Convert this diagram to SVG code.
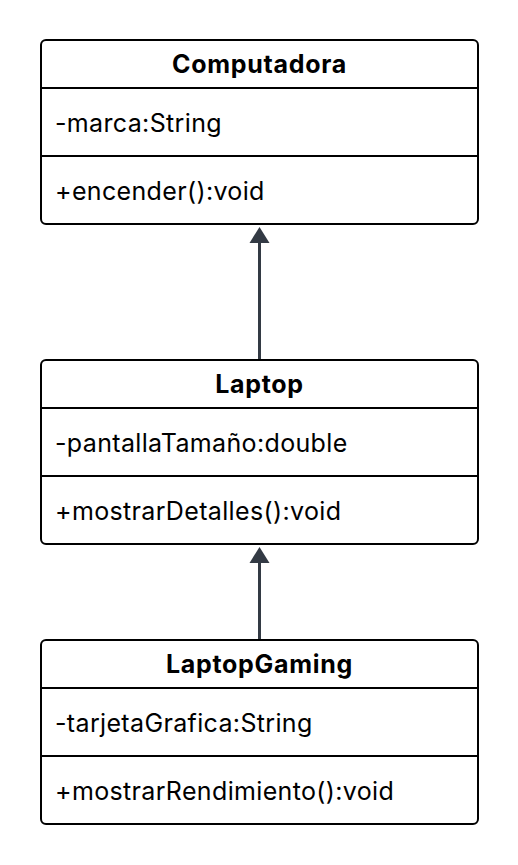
<svg xmlns="http://www.w3.org/2000/svg" width="518" height="865" viewBox="0 0 518 865">
<style>
.box{fill:#fff;stroke:#000;stroke-width:2}
.div{stroke:#000;stroke-width:2}
.t{font-family:Inter,"Liberation Sans",sans-serif;font-size:25px;letter-spacing:0.35px;fill:#000}
.h{font-weight:bold;text-anchor:middle;letter-spacing:0.7px}
.edge{stroke:#333a44;stroke-width:3;fill:none}
</style>
<rect width="518" height="865" fill="#fff"/>
<g id="edges">
<line class="edge" x1="259.5" y1="359" x2="259.5" y2="243"/>
<path d="M249.5,243 L259.5,227 L269.5,243 Z" fill="#333a44"/>
<line class="edge" x1="259.5" y1="639" x2="259.5" y2="563"/>
<path d="M249.5,563 L259.5,547 L269.5,563 Z" fill="#333a44"/>
</g>
<g id="Computadora">
<rect class="box" x="41" y="40" width="437" height="184" rx="5"/>
<line class="div" x1="41" y1="88" x2="478" y2="88"/>
<line class="div" x1="41" y1="156" x2="478" y2="156"/>
<text class="t h" x="259.5" y="73">Computadora</text>
<text class="t" x="55" y="132">-marca:String</text>
<text class="t" x="55" y="200">+encender():void</text>
</g>
<g id="Laptop">
<rect class="box" x="41" y="360" width="437" height="184" rx="5"/>
<line class="div" x1="41" y1="408" x2="478" y2="408"/>
<line class="div" x1="41" y1="476" x2="478" y2="476"/>
<text class="t h" x="259.5" y="393">Laptop</text>
<text class="t" x="55" y="452">-pantallaTamaño:double</text>
<text class="t" x="55" y="520">+mostrarDetalles():void</text>
</g>
<g id="LaptopGaming">
<rect class="box" x="41" y="640" width="437" height="184" rx="5"/>
<line class="div" x1="41" y1="688" x2="478" y2="688"/>
<line class="div" x1="41" y1="756" x2="478" y2="756"/>
<text class="t h" x="259.5" y="673">LaptopGaming</text>
<text class="t" x="55" y="732">-tarjetaGrafica:String</text>
<text class="t" x="55" y="800">+mostrarRendimiento():void</text>
</g>
</svg>
